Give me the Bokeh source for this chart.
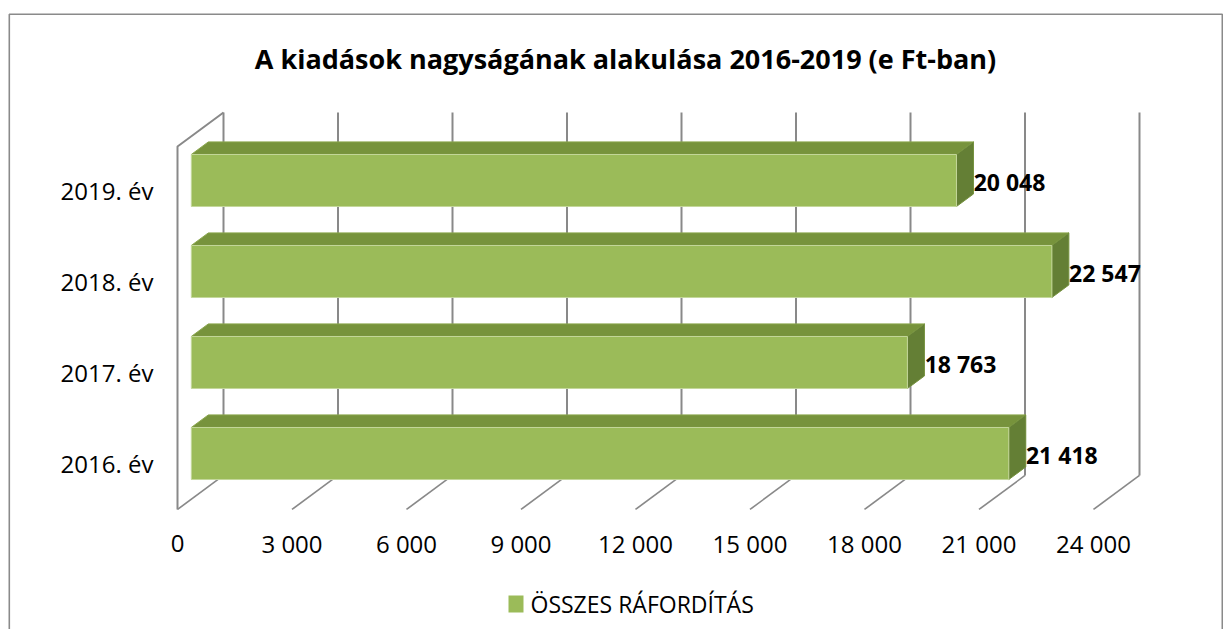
from bokeh.plotting import figure
from bokeh.models import Range1d, ColumnDataSource
from bokeh.embed import file_html
from bokeh.resources import INLINE
from bokeh.core.properties import value

# ---------------- data ----------------
categories = ["2016. év", "2017. év", "2018. év", "2019. év"]
values = [21418, 18763, 22547, 20048]
value_labels = ["21 418", "18 763", "22 547", "20 048"]
x_ticks = [0, 3000, 6000, 9000, 12000, 15000, 18000, 21000, 24000]
x_tick_labels = ["0", "3 000", "6 000", "9 000", "12 000", "15 000", "18 000", "21 000", "24 000"]
title_text = "A kiadások nagyságának alakulása 2016-2019 (e Ft-ban)"
series_name = "ÖSSZES RÁFORDÍTÁS"

# ---------------- layout ----------------
W, H = 1223, 629
ORIGIN = 0               # image px of the figure's left/top edge
X0_PX = 177.0            # image px of value 0 at floor front
K = 916.0 / 24000.0      # px per unit
Y0_PX = 463.2            # image px of category index 0 (front plane)
U = 91.0                 # px per category
DX = 46.0 / K            # depth offset in value units
DY = 34.0 / U            # depth offset in category units
F0, F1 = 0.30, 0.67      # bar depth fractions
HH = 0.286               # bar half height (category units)
FLOOR = -0.503
TOP = 3.486

def vx(px):
    return (px - X0_PX) / K

def cy(py):
    return (Y0_PX - py) / U

FONT = "Open Sans"
GRID = "#898989"

p = figure(width=W, height=H, output_backend="svg", toolbar_location=None,
           x_range=Range1d(vx(ORIGIN), vx(ORIGIN + W)),
           y_range=Range1d(cy(ORIGIN + H), cy(ORIGIN)),
           min_border=0, outline_line_color=None, background_fill_color="white")
p.axis.visible = False
p.grid.visible = False

# chart border (left, top, right)
bl, br, bt, bb = vx(8.8), vx(1221.8), cy(13.8), cy(700)
p.line([bl, bl, br, br], [bb, bt, bt, bb], line_color="#8a8a8a", line_width=1.6)

# back wall verticals
p.segment(x0=[t + DX for t in x_ticks], y0=[FLOOR + DY] * len(x_ticks),
          x1=[t + DX for t in x_ticks], y1=[TOP + DY] * len(x_ticks),
          line_color=GRID, line_width=2)
# floor diagonals
p.segment(x0=x_ticks, y0=[FLOOR] * len(x_ticks),
          x1=[t + DX for t in x_ticks], y1=[FLOOR + DY] * len(x_ticks),
          line_color=GRID, line_width=1.6)
# left wall
p.line([0, 0, DX], [FLOOR, TOP, TOP + DY], line_color=GRID, line_width=2)

# bars
idx = list(range(len(categories)))
front = ColumnDataSource(dict(
    left=[F0 * DX] * len(values),
    right=[v + F0 * DX for v in values],
    bottom=[i - HH + F0 * DY for i in idx],
    top=[i + HH + F0 * DY for i in idx]))
top_xs, top_ys, side_xs, side_ys = [], [], [], []
for i, v in zip(idx, values):
    top_xs.append([F0 * DX, v + F0 * DX, v + F1 * DX, F1 * DX])
    top_ys.append([i + HH + F0 * DY, i + HH + F0 * DY, i + HH + F1 * DY, i + HH + F1 * DY])
    side_xs.append([v + F0 * DX, v + F0 * DX, v + F1 * DX, v + F1 * DX])
    side_ys.append([i - HH + F0 * DY, i + HH + F0 * DY, i + HH + F1 * DY, i - HH + F1 * DY])

p.patches(top_xs, top_ys, fill_color="#77933C", line_color="#8aa64d", line_width=1)
p.patches(side_xs, side_ys, fill_color="#647F35", line_color="#76923f", line_width=1)
p.quad(left="left", right="right", bottom="bottom", top="top", source=front,
       fill_color="#9BBB59", line_color="#c4d79b", line_width=1)

# value labels
p.text(x=[v + F1 * DX + 5 for v in values], y=[i + F0 * DY - 0.02 for i in idx],
       text=value_labels, text_font=value(FONT), text_font_style="bold",
       text_font_size="23px", text_color="black",
       text_align="left", text_baseline="middle")

# category labels
p.text(x=[vx(153)] * len(categories), y=idx, text=categories,
       text_font=value(FONT), text_font_size="24px", text_color="black",
       text_align="right", text_baseline="middle")

# x tick labels
p.text(x=x_ticks, y=[cy(543)] * len(x_ticks), text=x_tick_labels,
       text_font=value(FONT), text_font_size="24px", text_color="black",
       text_align="center", text_baseline="middle")

# title
p.text(x=[vx(625)], y=[cy(58)], text=[title_text], text_font=value(FONT),
       text_font_style="bold", text_font_size="27px", text_color="black",
       text_align="center", text_baseline="middle")

# legend
p.quad(left=[vx(508)], right=[vx(523)], bottom=[cy(612)], top=[cy(595)],
       fill_color="#9BBB59", line_color=None)
p.text(x=[vx(530)], y=[cy(603.5)], text=[series_name], text_font=value(FONT),
       text_font_size="23px", text_color="black", text_align="left",
       text_baseline="middle")

open("out.html", "w").write(file_html(p, INLINE))
